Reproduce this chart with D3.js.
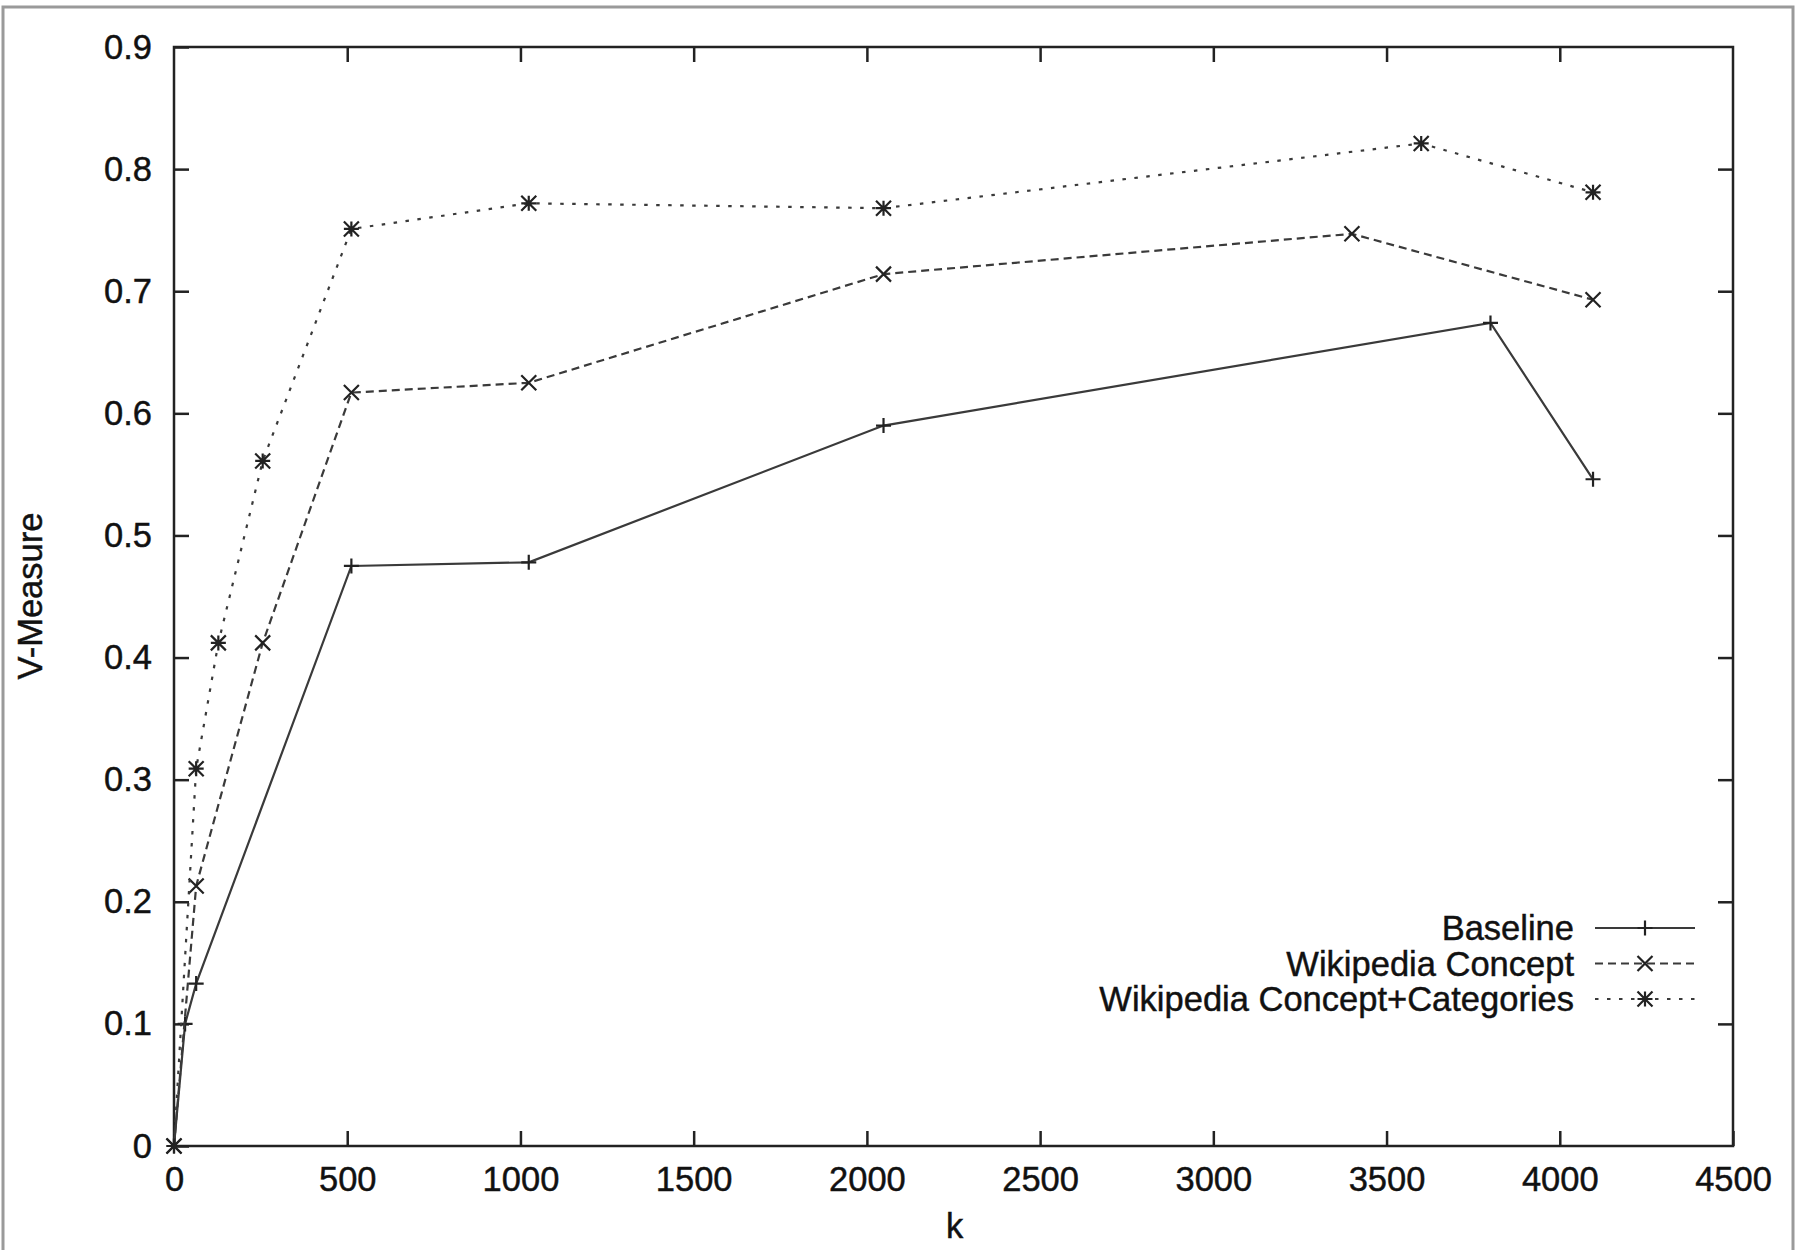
<!DOCTYPE html>
<html lang="en">
<head>
    <meta charset="UTF-8">
    <title>V-Measure vs k</title>
    <script src="https://cdn.jsdelivr.net/npm/d3@7"></script>
    <style>
        body { margin: 0; background: #fff; }
        svg text { font-family: "Liberation Sans", Arial, sans-serif; fill: #111; stroke: #111; stroke-width: 0.45px; }
    </style>
</head>
<body>
<svg width="1796" height="1250"></svg>
<script>
    // values
    const baselineK = [0, 32, 64, 512, 1024, 2048, 3800, 4096]
    const baselineV = [0, 0.1, 0.133, 0.475, 0.478, 0.59, 0.674, 0.546]
    const conceptK = [0, 64, 256, 512, 1024, 2048, 3400, 4096]
    const conceptV = [0, 0.213, 0.412, 0.617, 0.625, 0.714, 0.747, 0.693]
    const catK = [0, 64, 128, 256, 512, 1024, 2048, 3600, 4096]
    const catV = [0, 0.309, 0.412, 0.561, 0.751, 0.772, 0.768, 0.821, 0.781]
    const seriesNames = ["Baseline", "Wikipedia Concept", "Wikipedia Concept+Categories"]
    const xTicks = [0, 500, 1000, 1500, 2000, 2500, 3000, 3500, 4000, 4500]
    const yTicks = [0, 0.1, 0.2, 0.3, 0.4, 0.5, 0.6, 0.7, 0.8, 0.9]

    const svg = d3.select("svg")
    const plotL = 174, plotR = 1733, plotT = 47, plotB = 1146
    const fontSize = 34.5

    // outer frame of the scanned figure
    svg.append("rect").attr("x", 3).attr("y", 7).attr("width", 1790).attr("height", 1260)
        .attr("fill", "none").attr("stroke", "#9a9a9a").attr("stroke-width", 3)

    const x = d3.scaleLinear().domain([0, 4500]).range([plotL, plotR])
    const y = d3.scaleLinear().domain([0, 0.9]).range([plotB, plotT])

    const tick = 15
    const fmtY = d => d === 0 ? "0" : d3.format(".1f")(d)

    function styleAxis(g) {
        g.select(".domain").remove()
        g.selectAll("line").attr("stroke", "#222").attr("stroke-width", 2.5)
        g.selectAll("text").attr("font-size", fontSize).attr("fill", "#111")
            .attr("font-family", "'Liberation Sans', Arial, sans-serif")
    }

    svg.append("g").attr("transform", `translate(0,${plotB})`)
        .call(d3.axisBottom(x).tickValues(xTicks).tickSize(-tick).tickPadding(21).tickFormat(d3.format("d")))
        .call(styleAxis)
    svg.append("g").attr("transform", `translate(0,${plotT})`)
        .call(d3.axisTop(x).tickValues(xTicks.slice(1, -1)).tickSize(-tick).tickFormat(""))
        .call(styleAxis)
    svg.append("g").attr("transform", `translate(${plotL},0)`)
        .call(d3.axisLeft(y).tickValues(yTicks).tickSize(-tick).tickPadding(22).tickFormat(fmtY))
        .call(styleAxis)
    svg.append("g").attr("transform", `translate(${plotR},0)`)
        .call(d3.axisRight(y).tickValues(yTicks.slice(1, -1)).tickSize(-tick).tickFormat(""))
        .call(styleAxis)

    svg.append("rect").attr("x", plotL).attr("y", plotT)
        .attr("width", plotR - plotL).attr("height", plotB - plotT)
        .attr("fill", "none").attr("stroke", "#222").attr("stroke-width", 2.5)

    // axis titles
    svg.append("text").attr("x", (plotL + plotR) / 2 + 1).attr("y", 1238)
        .attr("text-anchor", "middle").attr("font-size", fontSize).text("k")
    svg.append("text").attr("transform", `translate(42,596) rotate(-90)`)
        .attr("text-anchor", "middle").attr("font-size", fontSize).text("V-Measure")

    // gnuplot-like point shapes
    function marker(type, r) {
        const p = d3.path()
        if (type !== "x") { p.moveTo(-r, 0); p.lineTo(r, 0); p.moveTo(0, -r); p.lineTo(0, r) }
        if (type !== "+") { p.moveTo(-r, -r); p.lineTo(r, r); p.moveTo(-r, r); p.lineTo(r, -r) }
        return p.toString()
    }

    const series = [
        {name: seriesNames[0], ks: baselineK, vs: baselineV, dash: null, mark: "+"},
        {name: seriesNames[1], ks: conceptK, vs: conceptV, dash: "8,5", mark: "x"},
        {name: seriesNames[2], ks: catK, vs: catV, dash: "3.5,8.5", mark: "*"}
    ]

    const line = d3.line().x(d => x(d[0])).y(d => y(d[1]))
    const lineColor = "#3a3a3a"

    series.forEach((s, i) => {
        const pts = s.ks.map((k, j) => [k, s.vs[j]])
        svg.append("path").datum(pts).attr("d", line)
            .attr("fill", "none").attr("stroke", lineColor).attr("stroke-width", 2.2)
            .attr("stroke-dasharray", s.dash)
        svg.append("g").selectAll("path").data(pts).join("path")
            .attr("transform", d => `translate(${x(d[0])},${y(d[1])})`)
            .attr("d", marker(s.mark, 7.5))
            .attr("fill", "none").attr("stroke", "#222").attr("stroke-width", 2.2)

        // legend row
        const ly = 928 + i * 35.5
        svg.append("text").attr("x", 1574).attr("y", ly).attr("dy", "0.35em")
            .attr("text-anchor", "end").attr("font-size", fontSize).text(s.name)
        svg.append("line").attr("x1", 1595).attr("x2", 1695).attr("y1", ly).attr("y2", ly)
            .attr("stroke", lineColor).attr("stroke-width", 2.2).attr("stroke-dasharray", s.dash)
        svg.append("path").attr("transform", `translate(1645,${ly})`)
            .attr("d", marker(s.mark, 7.5))
            .attr("fill", "none").attr("stroke", "#222").attr("stroke-width", 2.2)
    })
</script>
</body>
</html>
